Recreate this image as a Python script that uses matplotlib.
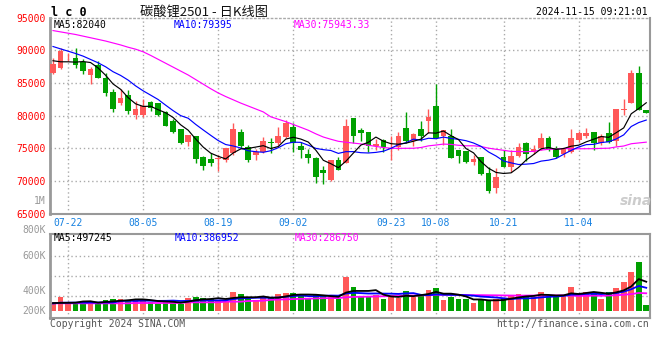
import numpy as np
import pandas as pd
from matplotlib import pyplot as plt

W, H = 660, 360

dates = ['07-22', '08-05', '08-19', '09-02', '09-23', '10-08', '10-21', '11-04']
date_index = [2, 12, 22, 32, 45, 51, 60, 70]

opens = [
    86450, 87260, 88900, 88780, 88120, 86190, 87720, 85740, 83660, 81880,
    83150, 80100, 80100, 82080, 81930, 80560, 79200, 77920, 75980, 76850,
    73690, 73290, 73300, 73150, 74200, 77460, 75120, 73900, 74450, 75980,
    75830, 76750, 78270, 75320, 74100, 73440, 71650, 70130, 73180, 72680,
    79650, 77770, 77420, 75370, 76240, 74900, 75120, 78110, 76090, 77920,
    79200, 81490, 76850, 76850, 74710, 74610, 72930, 73640, 71140, 68950,
    73590, 72060, 73790, 75730, 74400, 74960, 76490, 74960, 74050, 74460,
    76240, 76850, 77510, 75730, 77360, 76090, 80830, 81950, 86530, 80830,
]
closes = [
    87870, 89900, 89000, 87720, 86800, 87110, 85790, 83400, 81020, 82740,
    80760, 81020, 81420, 81120, 80100, 78430, 77400, 75830, 77000, 73330,
    72260, 72770, 73400, 75020, 77920, 75320, 73180, 74400, 76100, 75730,
    76850, 78890, 75780, 74710, 73440, 70630, 71150, 73180, 71650, 78380,
    76900, 77260, 75320, 75630, 75220, 75000, 76850, 76130, 77100, 76850,
    79810, 76600, 77770, 73540, 73840, 72930, 73330, 71040, 68490, 70630,
    72160, 73790, 75220, 74100, 74810, 76600, 74810, 73690, 74810, 76600,
    77360, 77360, 75730, 76850, 75980, 80930, 81030, 86530, 80830, 80420,
]
highs = [
    88730, 90400, 89490, 90300, 88580, 87460, 88330, 86450, 84010, 84060,
    83910, 82230, 82540, 82230, 81930, 80660, 79400, 78000, 77000, 76900,
    73800, 74200, 73950, 75020, 78890, 77920, 75470, 74820, 76750, 76500,
    78180, 79300, 78790, 75980, 74820, 73640, 72260, 73180, 73690, 79400,
    79650, 78030, 77510, 76340, 76340, 76850, 77510, 80570, 77360, 79140,
    80980, 84850, 77770, 77870, 74710, 74610, 73950, 73640, 72060, 71910,
    74710, 74710, 75730, 75980, 75420, 77360, 76850, 75320, 74960, 77920,
    77620, 78120, 77510, 77160, 79040, 80930, 82460, 87040, 87550, 80830,
]
lows = [
    86400, 87110, 88380, 87260, 86350, 84820, 85790, 83050, 80610, 81630,
    80250, 79490, 79800, 80760, 79950, 78330, 77300, 75700, 75370, 72700,
    71650, 72260, 71550, 72920, 73950, 74970, 72920, 73180, 74200, 74200,
    75470, 76500, 74450, 73440, 72770, 69620, 69510, 69980, 71650, 72680,
    75830, 76130, 74450, 74710, 74450, 73180, 74710, 75730, 75320, 76090,
    77360, 76600, 75470, 73540, 72670, 72770, 72420, 70890, 68080, 68190,
    72060, 71400, 73590, 73080, 74100, 74710, 74610, 73440, 73690, 74300,
    75980, 76600, 74710, 75470, 75730, 75320, 80060, 81950, 80830, 80320,
]
volumes = [
    128800, 240800, 128800, 156800, 145600, 145600, 128800, 184800, 201600, 201600,
    184800, 201600, 184800, 145600, 117600, 156800, 168000, 117600, 224000, 240800,
    224000, 201600, 184800, 156800, 324800, 285600, 201600, 184800, 224000, 224000,
    285600, 308000, 308000, 257600, 224000, 268800, 257600, 240800, 201600, 576800,
    408800, 257600, 240800, 268800, 201600, 257600, 212800, 336000, 240800, 285600,
    352800, 392000, 184800, 240800, 201600, 201600, 140000, 184800, 168000, 201600,
    224000, 257600, 285600, 257600, 240800, 324800, 240800, 240800, 268800, 408800,
    268800, 324800, 324800, 201600, 324800, 392000, 487200, 655200, 823200, 100800,
]

# moving averages at the left edge depend on days before the window
ma5_head = [88380, 88220, 88220, 88170]
ma10_head = [90560, 90200, 89850, 89490, 89090, 88580, 88070, 87460, 86700]
ma30_head = [
    93000, 92800, 92600, 92400, 92150, 91900, 91650, 91400, 91100, 90800,
    90450, 90150, 89750, 89200, 88600, 88000, 87400, 86800, 86200, 85500,
    84800, 84100, 83450, 82900, 82400, 81900, 81450, 81000, 80550,
]
vol_ma5_head = [134000, 136000, 138000, 140000]
vol_ma10_head = [126000, 140000, 140000, 141000, 141000, 142000, 142000, 143000, 143000]
vol_ma30_head = [
    128800, 128800, 128800, 128800, 128800, 128800, 128800, 128800, 128800, 128800,
    128800, 134400, 134400, 134400, 134400, 134400, 134400, 134400, 145600, 145600,
    145600, 145600, 145600, 156800, 156800, 156800, 168000, 170000, 173000,
]

RED = '#ff5858'
GREEN = '#00a000'
GRID = '#aaaaaa'
BORDER = '#999999'
MONO = 'DejaVu Sans Mono'


def moving_average(values, n, head):
    ma = pd.Series(values, dtype=float).rolling(n).mean().to_numpy()
    ma[:n - 1] = head
    return ma


def fpos(x, y):
    return x / W, 1 - y / H


o = np.array(opens, dtype=float)
c = np.array(closes, dtype=float)
hi = np.array(highs, dtype=float)
lo = np.array(lows, dtype=float)
x = np.arange(len(c))
colors = np.where(c >= o, RED, GREEN)

ma5 = moving_average(closes, 5, ma5_head)
ma10 = moving_average(closes, 10, ma10_head)
ma30 = moving_average(closes, 30, ma30_head)
vma5 = moving_average(volumes, 5, vol_ma5_head)
vma10 = moving_average(volumes, 10, vol_ma10_head)
vma30 = moving_average(volumes, 30, vol_ma30_head)

fig = plt.figure(figsize=(W / 100, H / 100), dpi=100)
ax = fig.add_axes([50 / W, 1 - 213.5 / H, 600 / W, 196 / H])
axv = fig.add_axes([50 / W, 1 - 318 / H, 600 / W, 84 / H])

# price panel
for v in [70000, 75000, 80000, 85000, 90000]:
    ax.axhline(v, color=GRID, lw=1, ls=(0, (1, 2)), zorder=0)
for i in date_index:
    ax.axvline(i, color=GRID, lw=1, ls=(0, (1, 2)), zorder=0)
    axv.axvline(i, color=GRID, lw=1, ls=(0, (1, 2)), zorder=0)

ax.vlines(x, lo, hi, colors=colors, lw=1, zorder=2)
ax.bar(x, np.maximum(np.abs(c - o), 120), bottom=np.minimum(o, c), width=0.76,
       color=colors, lw=0, zorder=3)
ax.plot(x, ma30, color='#ff00ff', lw=0.85, zorder=4)
ax.plot(x, ma10, color='#0000ff', lw=0.85, zorder=4)
ax.plot(x, ma5, color='black', lw=0.85, zorder=4)

ax.set_xlim(-0.4, len(c) - 0.5)
ax.set_ylim(65000, 95000)
ax.set_yticks(range(65000, 95001, 5000))
ax.set_yticklabels([str(v) for v in range(65000, 95001, 5000)], color='#ff0000',
                   fontsize=7, family=MONO)
ax.set_xticks(date_index)
ax.set_xticklabels(dates, color='#1580e0', fontsize=7, family=MONO)
ax.tick_params(length=0, pad=3)

for side in ['left', 'right', 'bottom']:
    ax.spines[side].set_color(BORDER)
    ax.spines[side].set_linewidth(1.5)
ax.spines['left'].set_linewidth(2)
ax.spines['top'].set_color(GRID)
ax.spines['top'].set_linestyle((0, (1, 2)))
ax.spines['top'].set_linewidth(1)

# volume panel
for frac in [0.262, 0.5, 0.738]:
    axv.axhline(-117600 + frac * 1411200, color=GRID, lw=1, ls=(0, (1, 2)), zorder=0)
axv.bar(x, volumes, width=0.76, color=colors, lw=0, zorder=2)
axv.plot(x, vma30, color='#ff00ff', lw=1.3, zorder=3)
axv.plot(x, vma10, color='#0000ff', lw=1.3, zorder=3)
axv.plot(x, vma5, color='black', lw=1.3, zorder=3)
axv.set_xlim(-0.4, len(c) - 0.5)
axv.set_ylim(-117600, 1293600)
axv.set_xticks([])
axv.set_yticks([])
for side in axv.spines:
    axv.spines[side].set_color(BORDER)
    axv.spines[side].set_linewidth(1.5)
axv.spines['left'].set_linewidth(2)

# texts
fig.text(*fpos(51, 12), 'l c 0', fontsize=8.5, weight='bold', family=MONO, va='center')
fig.text(*fpos(140, 12), '碳酸锂2501 - 日K线图', fontsize=9.5, va='center',
         family=['Noto Sans CJK SC', 'DejaVu Sans'], color='#111111')
fig.text(*fpos(648, 12), '2024-11-15 09:21:01', fontsize=7, family=MONO,
         ha='right', va='center')

fig.text(*fpos(54, 25), 'MA5:82040', fontsize=7, family=MONO, va='center', color='black')
fig.text(*fpos(174, 25), 'MA10:79395', fontsize=7, family=MONO, va='center', color='#0000ff')
fig.text(*fpos(294, 25), 'MA30:75943.33', fontsize=7, family=MONO, va='center', color='#ff00ff')

fig.text(*fpos(54, 238), 'MA5:497245', fontsize=7, family=MONO, va='center', color='black')
fig.text(*fpos(175, 238), 'MA10:386952', fontsize=7, family=MONO, va='center', color='#0000ff')
fig.text(*fpos(295, 238), 'MA30:286750', fontsize=7, family=MONO, va='center', color='#ff00ff')

for label, y in [('1M', 201), ('800K', 230), ('600K', 256), ('400K', 291), ('200K', 311)]:
    fig.text(*fpos(46, y), label, fontsize=7, family=MONO, ha='right', va='center',
             color='#999999')

fig.text(*fpos(50, 324), 'Copyright 2024 SINA.COM', fontsize=7, family=MONO,
         va='center', color='#555555')
fig.text(*fpos(649, 324), 'http://finance.sina.com.cn', fontsize=7, family=MONO,
         ha='right', va='center', color='#555555')
fig.text(*fpos(636, 201), 'sina', fontsize=10, weight='bold', style='italic',
         ha='center', va='center', color='#cccccc')

fig.savefig('out.png', dpi=100)
